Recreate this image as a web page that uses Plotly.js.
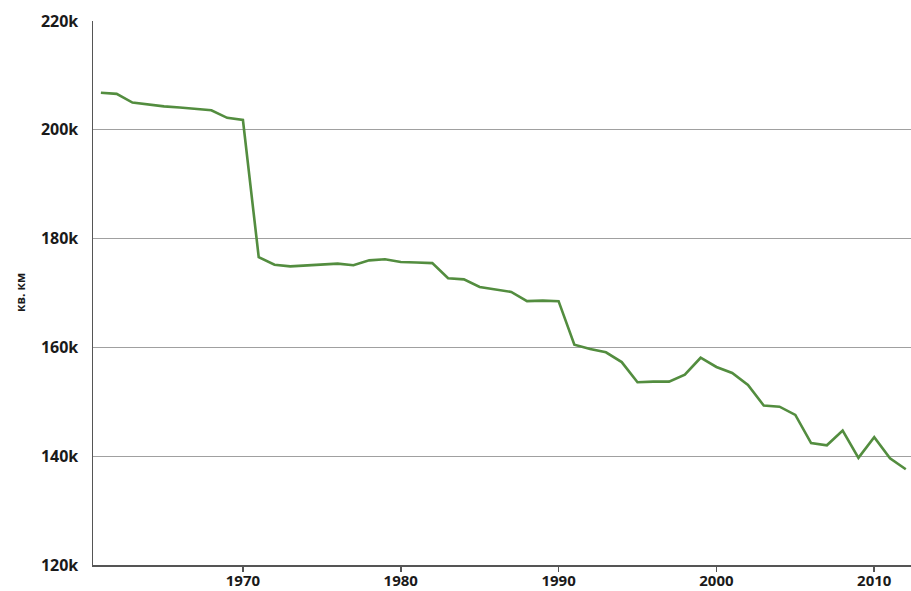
<!DOCTYPE html>
<html>
<head>
<meta charset="utf-8">
<script src="https://cdn.plot.ly/plotly-3.0.1.min.js"></script>
<style>html,body{margin:0;padding:0;background:#fff;}#chart{width:911px;height:591px;}</style>
</head>
<body>
<div id="chart"></div>
<script>
const years = [1961,1962,1963,1964,1965,1966,1967,1968,1969,1970,
  1971,1972,1973,1974,1975,1976,1977,1978,1979,1980,
  1981,1982,1983,1984,1985,1986,1987,1988,1989,1990,
  1991,1992,1993,1994,1995,1996,1997,1998,1999,2000,
  2001,2002,2003,2004,2005,2006,2007,2008,2009,2010,
  2011,2012];
const area = [206800,206600,205000,204600,204300,204100,203800,203600,202200,201800,
  176600,175200,174900,175100,175300,175400,175100,176000,176200,175700,
  175600,175500,172700,172500,171100,170600,170200,168500,168600,168500,
  160500,159700,159100,157300,153600,153700,153700,155000,158100,156400,
  155300,153100,149300,149100,147600,142400,142000,144700,139700,143500,
  139600,137600];
const yTickVals = [120000,140000,160000,180000,200000,220000];
const yTickText = ['120k','140k','160k','180k','200k','220k'];
const xTickVals = [1970,1980,1990,2000,2010];
const yTitle = 'кв. км';

const trace = {
  x: years, y: area, type: 'scatter', mode: 'lines',
  line: {color: '#538d3f', width: 2.6},
  hoverinfo: 'x+y'
};
const layout = {
  width: 911, height: 591,
  margin: {l: 93, r: 0, t: 21, b: 26, pad: 0},
  paper_bgcolor: '#ffffff', plot_bgcolor: '#ffffff',
  showlegend: false,
  font: {family: 'Open Sans, sans-serif', size: 15, color: '#1a1a1a', weight: 700},
  xaxis: {
    range: [1960.5, 2012.33],
    tickvals: xTickVals, ticktext: xTickVals.map(String),
    ticks: 'outside', ticklen: 5, tickcolor: '#555', tickwidth: 1.5,
    ticklabelstandoff: -4,
    showline: true, linecolor: '#555', linewidth: 1.5,
    showgrid: false, zeroline: false,
    tickfont: {size: 15, color: '#1a1a1a', weight: 700}
  },
  yaxis: {
    range: [120000, 220000],
    tickvals: yTickVals, ticktext: yTickText,
    ticks: '', ticklabelstandoff: 10,
    showline: true, linecolor: '#555', linewidth: 1.5,
    showgrid: true, gridcolor: '#a0a0a0', gridwidth: 1,
    zeroline: false,
    tickfont: {size: 16, color: '#1a1a1a', weight: 700}
  },
  annotations: [{
    text: yTitle, textangle: -90, showarrow: false,
    xref: 'paper', yref: 'paper', x: (20 - 93) / 818, y: 0.5,
    xanchor: 'center', yanchor: 'middle',
    font: {size: 12, color: '#1a1a1a', weight: 700}
  }]
};
Plotly.newPlot('chart', [trace], layout, {displayModeBar: false, staticPlot: true});
</script>
</body>
</html>
